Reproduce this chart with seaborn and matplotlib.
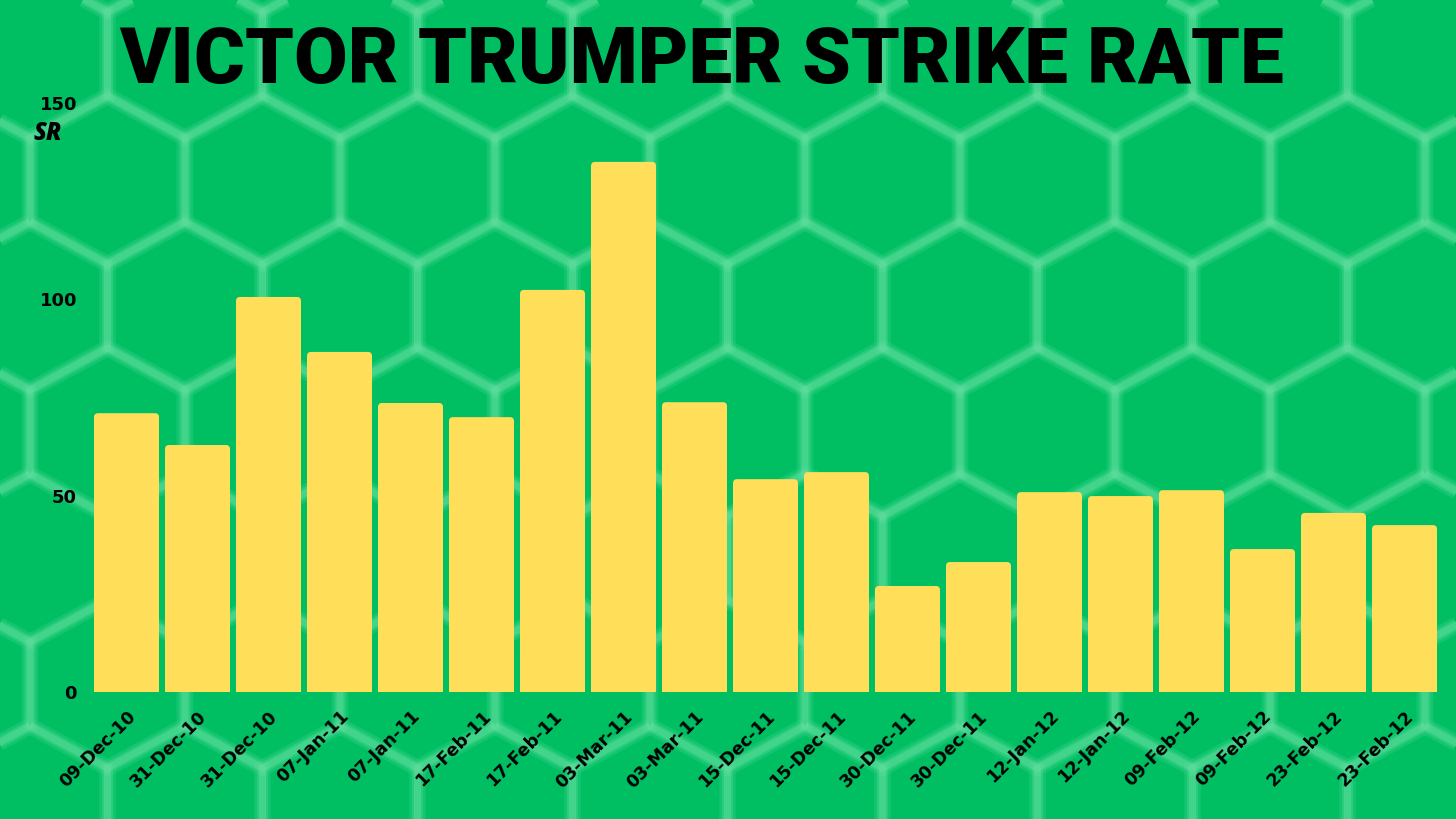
import pandas as pd
import numpy as np
import matplotlib.pyplot as plt
import seaborn as sns
from matplotlib.patches import Polygon, FancyBboxPatch

# data
dates = ["09-Dec-10", "31-Dec-10", "31-Dec-10", "07-Jan-11", "07-Jan-11",
         "17-Feb-11", "17-Feb-11", "03-Mar-11", "03-Mar-11", "15-Dec-11",
         "15-Dec-11", "30-Dec-11", "30-Dec-11", "12-Jan-12", "12-Jan-12",
         "09-Feb-12", "09-Feb-12", "23-Feb-12", "23-Feb-12"]
strike_rate = [71.0, 62.9, 100.6, 86.6, 73.6, 70.0, 102.4, 135.0, 73.8, 54.2,
               56.0, 27.0, 33.1, 50.9, 49.9, 51.4, 36.4, 45.6, 42.5]
yticks = [0, 50, 100, 150]

data = pd.DataFrame({"inning": range(len(dates)), "date": dates, "SR": strike_rate})

green = "#00BF63"
yellow = "#FFDE59"

sns.set_style("white")
plt.rcParams["font.family"] = ["DejaVu Sans"]
plt.rcParams["text.color"] = "black"
plt.rcParams["xtick.color"] = "black"
plt.rcParams["ytick.color"] = "black"

fig = plt.figure(figsize=(14.56, 8.19), dpi=100)
fig.patch.set_facecolor(green)

# honeycomb background
bg = fig.add_axes([0, 0, 1, 1])
bg.set_xlim(0, 1456)
bg.set_ylim(819, 0)
bg.axis("off")
hw, hs, row_step = 155, 84, 126
for r in range(-3, 6):
    cy = 306 + r * row_step
    off = 77.5 if r % 2 else 0
    for c in range(-3, 9):
        cx = 340 + c * hw + off
        pts = [(cx, cy - hs), (cx + hw / 2, cy - hs / 2), (cx + hw / 2, cy + hs / 2),
               (cx, cy + hs), (cx - hw / 2, cy + hs / 2), (cx - hw / 2, cy - hs / 2)]
        for lw, a in [(12, 0.07), (8, 0.1), (5, 0.14)]:
            bg.add_patch(Polygon(pts, closed=True, fill=False, edgecolor="#8ff0bd",
                                 lw=lw, alpha=a, joinstyle="round"))

# bar chart
ax = fig.add_axes([91 / 1456, 127 / 819, 1349 / 1456, 589 / 819])
ax.set_facecolor("none")
sns.barplot(data=data, x="inning", y="SR", color=yellow, width=0.915,
            saturation=1, linewidth=0, ax=ax)
ax.set_xlim(-0.5, len(dates) - 0.5)
ax.set_ylim(0, 150)

# rounded top corners
rx = 4 / 71
asp = (150 / 589) / (1 / 71)
for bar in list(ax.patches):
    x, w, h = bar.get_x(), bar.get_width(), bar.get_height()
    bar.set_height(h - 6 * 150 / 589)
    ax.add_patch(FancyBboxPatch((x, 0), w, h, boxstyle=f"round,pad=0,rounding_size={rx}",
                                mutation_aspect=asp, facecolor=yellow, edgecolor="none"))

ax.set_yticks(yticks)
ax.set_yticklabels([str(v) for v in yticks], fontsize=13, fontweight="bold")
ax.set_xticks(range(len(dates)))
ax.set_xticklabels(dates, rotation=45, ha="right", rotation_mode="anchor",
                   fontsize=12.5, fontweight="bold")
ax.tick_params(axis="both", length=0)
ax.tick_params(axis="y", pad=10)
ax.tick_params(axis="x", pad=11)
ax.set_xlabel("")
ax.set_ylabel("")
sns.despine(ax=ax, left=True, bottom=True)

fig.text(34 / 1456, 1 - 133 / 819, "SR", fontsize=17, fontweight="heavy",
         style="italic", family=["Open Sans", "DejaVu Sans"], va="center", ha="left")
fig.text(701 / 1456, 1 - 62 / 819, "VICTOR TRUMPER STRIKE RATE", fontsize=56,
         fontweight="heavy", family=["Roboto", "DejaVu Sans"], ha="center",
         va="center", color="black")

fig.savefig("out.png", dpi=100, facecolor=green)
